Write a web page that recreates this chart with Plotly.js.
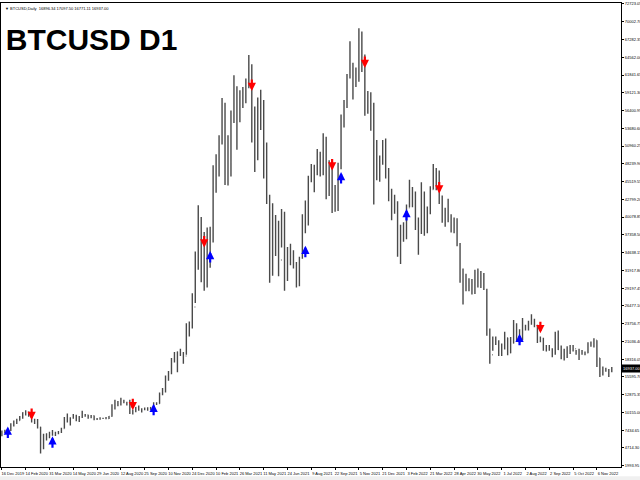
<!DOCTYPE html>
<html><head><meta charset="utf-8">
<script src="https://cdn.plot.ly/plotly-3.0.1.min.js"></script>
<style>html,body{margin:0;padding:0;background:#fff;}#chart{width:640px;height:480px;}</style>
</head><body><div id="chart"></div>
<script>
// Coarse bars (each ~4 daily bars)
const high = [7400,7500,7600,8500,8900,9200,9600,10200,10500,10300,9900,9200,9150,7950,6900,6950,7200,7450,7200,7300,
7800,9450,10000,9400,9900,9800,9600,10400,9900,9800,9750,9700,9300,9400,9350,9450,9600,11400,12100,11900,
12400,12100,11800,12100,10600,11000,11200,10800,10900,10950,11000,11700,11700,13200,13900,15800,16500,18500,19400,19500,
19900,19400,23800,24100,28400,34800,41900,40100,37800,38500,38600,48000,49700,52600,58300,57600,52600,56400,61800,60100,
59500,60000,61300,64900,63500,57000,58400,59600,58000,51500,43500,42200,40400,39500,41300,40900,35500,36000,35000,33200,
34000,40500,42600,46400,48200,48100,50500,50100,52900,52400,48800,48300,45000,48400,55800,58000,62000,67000,63700,63000,
69000,68500,65000,59400,59200,57600,51900,49500,51900,52100,47600,44400,43500,42500,38900,39300,42000,45800,44700,44000,
40000,45400,44000,41700,44800,48200,47600,47200,43400,41500,42900,40500,40000,39900,36100,32200,31400,30700,30600,32000,
32200,31800,31500,29100,23000,21800,21800,21200,20700,22500,21600,21700,24300,23800,22900,24600,23600,24200,25200,24500,
23600,21800,21600,20500,20500,20000,22500,22700,20400,19900,20300,20500,20500,19700,19900,19700,19500,20900,21000,21500,
21200,18500,17200,17000,16800,17100];
const low = [6500,7000,6850,7300,8000,8400,8900,9200,9700,9500,8600,8400,7700,3850,4500,5850,6200,6600,6550,6800,
7000,7700,8600,8150,9200,8800,8700,9300,9500,9200,9250,8950,9000,9050,9150,9100,9150,9500,10600,11100,
11200,11550,11200,9900,9850,10200,10400,10150,10500,10400,10550,10900,11300,11500,12800,13200,15000,16000,17800,16300,
18800,17600,19000,21800,23000,26900,32000,30100,28800,29300,32300,36200,43800,46300,51200,45000,44900,46300,54500,50400,
54600,56800,57500,59800,51500,47000,48800,53400,46000,42100,30000,31100,34100,31000,35400,28800,30300,32700,32200,29300,
29500,33700,37600,38800,45400,43900,46500,46300,46500,42800,43300,40700,40900,41000,47400,53800,56800,61300,58100,60000,
60800,62300,55600,55900,53300,42000,45700,45500,48100,46000,42500,39600,40600,34000,32900,36300,36700,41600,41600,38100,
34300,37500,37200,37600,40500,44300,44200,42100,39200,38600,39300,37700,37600,35600,30000,26700,28700,28700,28200,28300,
29300,29200,28900,21900,17600,19600,20500,18800,18800,19800,18900,19200,20700,21000,20800,21200,22700,22700,23600,23200,
20800,20900,19600,19500,19600,18600,19000,19700,18300,18100,18500,19100,19500,19000,18200,19000,18900,19200,20200,20100,
17100,15600,15800,16400,15600,16300];
const close = [7100,7200,7400,8200,8700,8900,9400,10100,10200,9700,8800,8900,7900,5000,6200,6600,6800,6900,7100,7100,
7700,8850,8800,9300,9700,9200,9500,9700,9750,9450,9650,9100,9200,9250,9250,9200,9550,11000,11200,11600,
11800,11650,11700,10500,10350,10900,10700,10700,10800,10600,10900,11500,11500,12900,13600,15300,16300,18400,18700,19400,
19200,18800,23200,23700,26300,33000,38300,36800,32100,34300,37600,45000,48700,51600,57500,46300,48500,55900,58900,55000,
58800,58200,60000,63200,56200,49000,57800,56500,49800,42900,37300,38500,35700,33500,40200,34700,34300,33800,32800,30800,
33800,39400,39000,45600,47800,46800,48900,48800,51700,45100,47200,43500,41600,47700,54900,57400,61500,62200,61900,61100,
66900,64100,57600,57200,57000,49500,48300,48900,50800,46400,43100,43000,41700,36300,37700,37000,41500,43900,43900,38400,
38300,43200,39400,41100,44300,47100,45500,42200,40100,40800,39500,39200,38500,35900,31000,29300,29800,30300,29000,31800,
29800,31300,29000,22500,19000,21200,20700,19300,20200,21600,19300,20800,23200,22600,21300,23300,22900,23800,24400,23300,
21100,21400,20000,20100,19800,19300,22200,19800,19500,18900,19400,20300,19900,19100,19100,19200,19300,20800,20500,21200,
18500,16300,16800,16700,16400,16937];
const firstOpen = 6900;

const tickBars = [0,8,16,24,32,40,48,56,64,72,80,88,96,104,112,120,128,136,144,152,160,168,176,184,192,200];
const tickDates = ["16 Dec 2019","14 Feb 2020","31 Mar 2020","14 May 2020","29 Jun 2020","12 Aug 2020","25 Sep 2020",
"10 Nov 2020","24 Dec 2020","10 Feb 2021","26 Mar 2021","11 May 2021","24 Jun 2021","9 Aug 2021","22 Sep 2021",
"5 Nov 2021","21 Dec 2021","3 Feb 2022","21 Mar 2022","28 Apr 2022","30 May 2022","1 Jul 2022","2 Aug 2022",
"2 Sep 2022","5 Oct 2022","6 Nov 2022"];
const priceLabels = ["1993.95","4714.30","7434.65","10155.00","12875.35","15595.70","18316.05","21036.40","23756.75",
"26477.10","29197.45","31917.80","34638.15","37358.50","40078.85","42799.20","45519.55","48239.90","50960.25",
"53680.60","56400.95","59121.30","61841.65","64562.00","67282.35","70002.70","72723.05"];

// signal arrows (tip price)
const upBars = [2,17,51,70,102,114,136,174];
const upTips = [8000,6500,11500,34900,35700,47000,41300,22200];
const dnBars = [10,44,68,84,111,122,147,181];
const dnTips = [9000,10500,35400,59400,47200,62900,43700,22300];

const header = "\u25BC BTCUSD,Daily  16896.34 17097.50 16771.11 16937.00";

const bars = high.map((_, i) => i);
const open = close.map((c, i) => i === 0 ? firstOpen : close[i - 1]);

const trace = {
  type: 'ohlc', x: bars, open: open, high: high, low: low, close: close,
  increasing: {line: {color: '#4a4a4a', width: 1.4}},
  decreasing: {line: {color: '#4a4a4a', width: 1.4}},
  tickwidth: 0.2, hoverinfo: 'skip'
};

const ann = [];
upBars.forEach((b, i) => ann.push({x: b, y: upTips[i], xref: 'x', yref: 'y', text: '', showarrow: true,
  ax: 0, ay: 13, arrowhead: 2, arrowsize: 0.75, arrowwidth: 2.2, arrowcolor: '#0000ff', standoff: 0}));
dnBars.forEach((b, i) => ann.push({x: b, y: dnTips[i], xref: 'x', yref: 'y', text: '', showarrow: true,
  ax: 0, ay: -13, arrowhead: 2, arrowsize: 0.75, arrowwidth: 2.2, arrowcolor: '#ff0000', standoff: 0}));
ann.push({xref: 'paper', yref: 'paper', x: 0.004, y: 0.997, xanchor: 'left', yanchor: 'top', showarrow: false,
  text: header, font: {family: 'Liberation Sans', size: 4, color: '#000'}});
ann.push({xref: 'paper', yref: 'y', x: 1, y: close[close.length - 1], xanchor: 'left', yanchor: 'middle',
  showarrow: false, text: close[close.length - 1].toFixed(2), bgcolor: '#000', borderpad: 1,
  font: {family: 'Liberation Sans', size: 4, color: '#fff'}});

const tickFont = {family: 'Liberation Sans', size: 4, color: '#000'};
const layout = {
  width: 640, height: 480,
  margin: {l: 1, r: 19, t: 3, b: 13, pad: 0},
  paper_bgcolor: '#fff', plot_bgcolor: '#fff',
  showlegend: false,
  title: {text: '<b>BTCUSD D1</b>', font: {family: 'Liberation Sans', size: 30, color: '#000'},
    xref: 'container', yref: 'container', x: 0.009, y: 0.94, xanchor: 'left', yanchor: 'top'},
  xaxis: {range: [-0.3, 208.1], tickvals: tickBars, ticktext: tickDates, tickangle: 0, ticks: 'outside', ticklen: 2,
    tickcolor: '#000', showline: true, linecolor: '#000', linewidth: 1, mirror: true, showgrid: false,
    zeroline: false, tickfont: tickFont, ticklabelshift: 11,
    rangeslider: {visible: false}, fixedrange: true},
  yaxis: {side: 'right', range: [1795, 72870], tickvals: priceLabels.map(Number), ticktext: priceLabels,
    ticks: 'outside', ticklen: 2, tickcolor: '#000', showline: true, linecolor: '#000', linewidth: 1,
    mirror: true, showgrid: false, zeroline: false, tickfont: tickFont, fixedrange: true},
  annotations: ann,
  shapes: [{type: 'rect', xref: 'paper', yref: 'paper', x0: -0.01, x1: 1.05, y0: -0.02, y1: -0.035,
    fillcolor: '#f0f0f0', line: {width: 0}, layer: 'below'}]
};
Plotly.newPlot('chart', [trace], layout, {displayModeBar: false, staticPlot: true});
</script>
</body></html>
